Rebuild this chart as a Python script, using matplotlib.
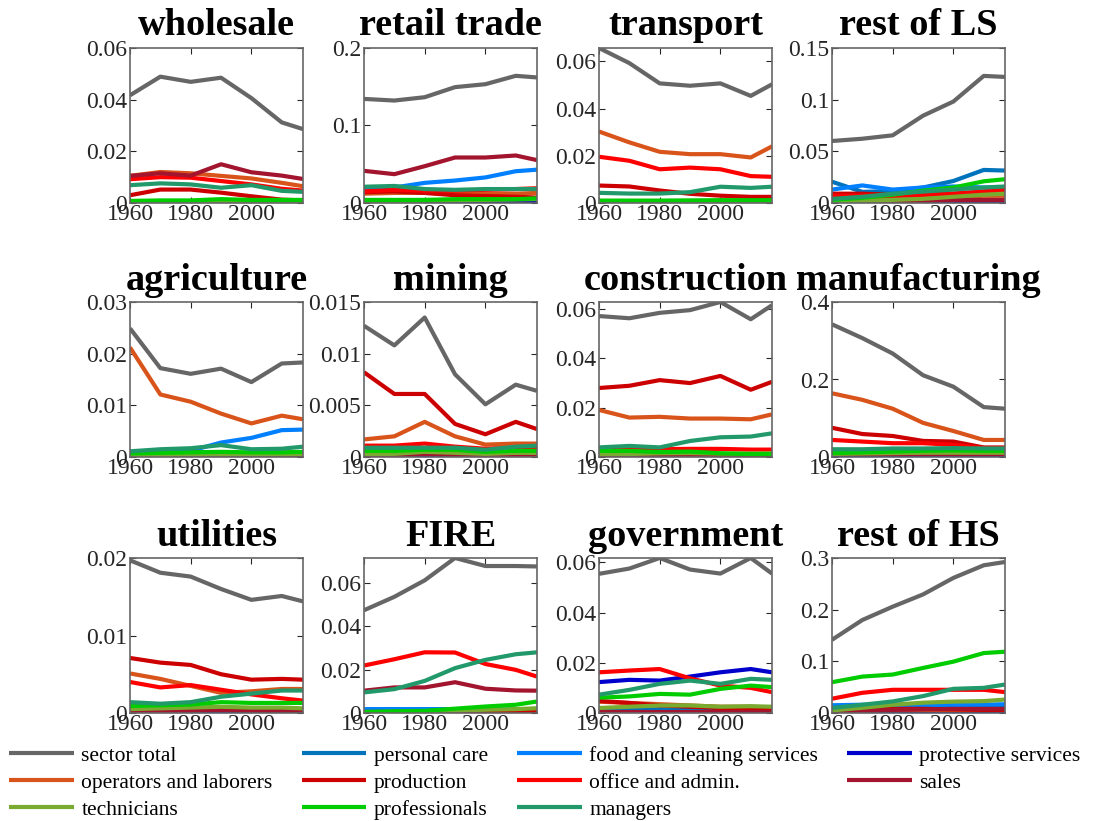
import numpy as np
import matplotlib
matplotlib.use('Agg')
from matplotlib import pyplot as plt
from matplotlib.ticker import MultipleLocator, FuncFormatter

plt.rcParams['font.family'] = ['Liberation Serif', 'DejaVu Serif']

years = [1960, 1970, 1980, 1990, 2000, 2010, 2017]

labels = ['sector total', 'personal care', 'food and cleaning services', 'protective services',
          'operators and laborers', 'production', 'office and admin.', 'sales',
          'technicians', 'professionals', 'managers']
colors = [(0.4, 0.4, 0.4), (0.0, 0.45, 0.74), (0.0, 0.5, 1.0), (0.0, 0.0, 0.8),
          (0.85, 0.33, 0.1), (0.8, 0.0, 0.0), (1.0, 0.0, 0.0), (0.64, 0.08, 0.18),
          (0.47, 0.67, 0.19), (0.0, 0.8, 0.0), (0.13, 0.6, 0.42)]

# rows follow the order of `labels`
wholesale = [
    [0.0417, 0.0489, 0.0469, 0.0485, 0.0406, 0.0312, 0.0286],
    [0.0001, 0.0001, 0.0001, 0.0001, 0.0001, 0.0001, 0.0001],
    [0.0003, 0.0003, 0.0003, 0.0003, 0.0003, 0.0003, 0.0003],
    [0.0001, 0.0001, 0.0001, 0.0003, 0.0002, 0.0001, 0.0001],
    [0.0105, 0.0120, 0.0115, 0.0105, 0.0095, 0.0078, 0.0065],
    [0.0030, 0.0052, 0.0052, 0.0040, 0.0026, 0.0013, 0.0010],
    [0.0092, 0.0100, 0.0098, 0.0085, 0.0072, 0.0055, 0.0048],
    [0.0105, 0.0115, 0.0106, 0.0150, 0.0119, 0.0106, 0.0093],
    [0.0005, 0.0006, 0.0006, 0.0007, 0.0006, 0.0006, 0.0006],
    [0.0008, 0.0010, 0.0010, 0.0015, 0.0012, 0.0012, 0.0012],
    [0.0069, 0.0076, 0.0072, 0.0059, 0.0069, 0.0047, 0.0043],
]
retail = [
    [0.1343, 0.1322, 0.1365, 0.1495, 0.1533, 0.1641, 0.1620],
    [0.0020, 0.0020, 0.0020, 0.0020, 0.0020, 0.0020, 0.0020],
    [0.0180, 0.0200, 0.0260, 0.0290, 0.0330, 0.0410, 0.0430],
    [0.0008, 0.0008, 0.0008, 0.0008, 0.0008, 0.0008, 0.0008],
    [0.0120, 0.0130, 0.0130, 0.0120, 0.0120, 0.0120, 0.0130],
    [0.0140, 0.0150, 0.0130, 0.0100, 0.0090, 0.0080, 0.0070],
    [0.0150, 0.0170, 0.0160, 0.0160, 0.0170, 0.0180, 0.0190],
    [0.0415, 0.0372, 0.0475, 0.0587, 0.0587, 0.0613, 0.0553],
    [0.0020, 0.0025, 0.0030, 0.0035, 0.0040, 0.0045, 0.0050],
    [0.0040, 0.0040, 0.0040, 0.0050, 0.0050, 0.0050, 0.0060],
    [0.0210, 0.0220, 0.0180, 0.0170, 0.0180, 0.0180, 0.0180],
]
transport = [
    [0.0657, 0.0593, 0.0507, 0.0497, 0.0507, 0.0454, 0.0503],
    [0.0003, 0.0003, 0.0003, 0.0003, 0.0003, 0.0003, 0.0003],
    [0.0004, 0.0004, 0.0004, 0.0004, 0.0004, 0.0004, 0.0004],
    [0.0002, 0.0002, 0.0002, 0.0002, 0.0002, 0.0002, 0.0002],
    [0.0303, 0.0257, 0.0217, 0.0207, 0.0207, 0.0193, 0.0240],
    [0.0074, 0.0070, 0.0053, 0.0039, 0.0031, 0.0026, 0.0026],
    [0.0196, 0.0179, 0.0143, 0.0150, 0.0143, 0.0114, 0.0111],
    [0.0008, 0.0008, 0.0008, 0.0008, 0.0008, 0.0008, 0.0008],
    [0.0006, 0.0006, 0.0006, 0.0006, 0.0006, 0.0006, 0.0006],
    [0.0010, 0.0010, 0.0010, 0.0011, 0.0012, 0.0012, 0.0012],
    [0.0043, 0.0040, 0.0040, 0.0046, 0.0069, 0.0064, 0.0069],
]
rest_ls = [
    [0.0600, 0.0622, 0.0655, 0.0845, 0.0982, 0.1230, 0.1220],
    [0.0206, 0.0108, 0.0115, 0.0150, 0.0213, 0.0320, 0.0314],
    [0.0130, 0.0170, 0.0130, 0.0150, 0.0160, 0.0150, 0.0150],
    [0.0005, 0.0005, 0.0008, 0.0010, 0.0015, 0.0020, 0.0020],
    [0.0060, 0.0050, 0.0050, 0.0050, 0.0060, 0.0070, 0.0070],
    [0.0090, 0.0090, 0.0080, 0.0090, 0.0090, 0.0110, 0.0110],
    [0.0070, 0.0070, 0.0070, 0.0080, 0.0090, 0.0110, 0.0130],
    [0.0020, 0.0020, 0.0020, 0.0020, 0.0030, 0.0030, 0.0030],
    [0.0010, 0.0020, 0.0030, 0.0040, 0.0060, 0.0080, 0.0090],
    [0.0030, 0.0050, 0.0080, 0.0120, 0.0150, 0.0210, 0.0230],
    [0.0040, 0.0060, 0.0090, 0.0110, 0.0130, 0.0150, 0.0160],
]
agriculture = [
    [0.0249, 0.0172, 0.0161, 0.0171, 0.0145, 0.0181, 0.0183],
    [0.0001, 0.0001, 0.0001, 0.0001, 0.0001, 0.0001, 0.0001],
    [0.0005, 0.0008, 0.0012, 0.0028, 0.0037, 0.0052, 0.0053],
    [0.0001, 0.0001, 0.0001, 0.0001, 0.0001, 0.0001, 0.0001],
    [0.0212, 0.0121, 0.0107, 0.0084, 0.0065, 0.0080, 0.0073],
    [0.0005, 0.0006, 0.0008, 0.0009, 0.0007, 0.0008, 0.0009],
    [0.0003, 0.0004, 0.0006, 0.0008, 0.0007, 0.0008, 0.0008],
    [0.0001, 0.0001, 0.0001, 0.0002, 0.0002, 0.0002, 0.0002],
    [0.0004, 0.0004, 0.0005, 0.0005, 0.0005, 0.0005, 0.0006],
    [0.0007, 0.0008, 0.0009, 0.0010, 0.0009, 0.0009, 0.0010],
    [0.0011, 0.0015, 0.0017, 0.0023, 0.0015, 0.0016, 0.0020],
]
mining = [
    [0.0127, 0.0108, 0.0135, 0.0080, 0.0051, 0.0070, 0.0064],
    [0.00002, 0.00002, 0.00002, 0.00002, 0.00002, 0.00002, 0.00002],
    [0.0001, 0.0001, 0.0001, 0.0001, 0.0001, 0.0001, 0.0001],
    [0.00003, 0.00003, 0.00003, 0.00003, 0.00003, 0.00003, 0.00003],
    [0.0017, 0.0020, 0.0034, 0.0020, 0.0012, 0.0013, 0.0013],
    [0.0082, 0.0061, 0.0061, 0.0032, 0.0022, 0.0034, 0.0027],
    [0.0011, 0.0011, 0.0013, 0.0010, 0.0008, 0.0009, 0.0009],
    [0.0001, 0.0001, 0.0003, 0.0002, 0.0001, 0.0001, 0.0001],
    [0.0003, 0.0003, 0.0005, 0.0004, 0.0003, 0.0004, 0.0004],
    [0.0006, 0.0006, 0.0007, 0.0007, 0.0005, 0.0006, 0.0006],
    [0.0009, 0.0009, 0.0009, 0.0009, 0.0007, 0.0010, 0.0011],
]
construction = [
    [0.0572, 0.0563, 0.0585, 0.0596, 0.0629, 0.0559, 0.0616],
    [0.0001, 0.0001, 0.0001, 0.0001, 0.0001, 0.0001, 0.0001],
    [0.0003, 0.0003, 0.0003, 0.0003, 0.0003, 0.0003, 0.0003],
    [0.0001, 0.0001, 0.0001, 0.0001, 0.0001, 0.0001, 0.0001],
    [0.0191, 0.0160, 0.0163, 0.0156, 0.0156, 0.0153, 0.0173],
    [0.0280, 0.0289, 0.0312, 0.0300, 0.0329, 0.0273, 0.0305],
    [0.0030, 0.0030, 0.0032, 0.0033, 0.0033, 0.0030, 0.0030],
    [0.0004, 0.0004, 0.0005, 0.0005, 0.0005, 0.0005, 0.0005],
    [0.0012, 0.0012, 0.0015, 0.0016, 0.0014, 0.0014, 0.0015],
    [0.0025, 0.0025, 0.0020, 0.0022, 0.0015, 0.0012, 0.0012],
    [0.0039, 0.0045, 0.0039, 0.0065, 0.0080, 0.0083, 0.0096],
]
manufacturing = [
    [0.3424, 0.3068, 0.2670, 0.2110, 0.1814, 0.1288, 0.1246],
    [0.0010, 0.0010, 0.0010, 0.0010, 0.0010, 0.0010, 0.0010],
    [0.0030, 0.0030, 0.0030, 0.0030, 0.0030, 0.0030, 0.0030],
    [0.0010, 0.0010, 0.0010, 0.0010, 0.0010, 0.0010, 0.0010],
    [0.1644, 0.1475, 0.1246, 0.0881, 0.0670, 0.0440, 0.0440],
    [0.0754, 0.0593, 0.0542, 0.0415, 0.0398, 0.0246, 0.0246],
    [0.0440, 0.0398, 0.0356, 0.0356, 0.0314, 0.0229, 0.0229],
    [0.0070, 0.0070, 0.0070, 0.0070, 0.0070, 0.0070, 0.0070],
    [0.0080, 0.0090, 0.0100, 0.0110, 0.0110, 0.0110, 0.0110],
    [0.0100, 0.0120, 0.0140, 0.0160, 0.0170, 0.0160, 0.0160],
    [0.0200, 0.0200, 0.0220, 0.0220, 0.0230, 0.0220, 0.0220],
]
utilities = [
    [0.0197, 0.0181, 0.0176, 0.0160, 0.0146, 0.0151, 0.0144],
    [0.00002, 0.00002, 0.00002, 0.00002, 0.00002, 0.00002, 0.00002],
    [0.00005, 0.00005, 0.00005, 0.00005, 0.00005, 0.00005, 0.00005],
    [0.00003, 0.00003, 0.00003, 0.00003, 0.00003, 0.00003, 0.00003],
    [0.0051, 0.0044, 0.0035, 0.0026, 0.0028, 0.0031, 0.0031],
    [0.0071, 0.0065, 0.0062, 0.0050, 0.0043, 0.0044, 0.0043],
    [0.0040, 0.0033, 0.0036, 0.0030, 0.0024, 0.0019, 0.0016],
    [0.0002, 0.0002, 0.0003, 0.0004, 0.0003, 0.0003, 0.0003],
    [0.0005, 0.0006, 0.0007, 0.0008, 0.0007, 0.0007, 0.0006],
    [0.0009, 0.0010, 0.0011, 0.0014, 0.0013, 0.0013, 0.0013],
    [0.0014, 0.0012, 0.0014, 0.0021, 0.0025, 0.0029, 0.0029],
]
fire = [
    [0.0474, 0.0536, 0.0612, 0.0715, 0.0678, 0.0678, 0.0676],
    [0.0015, 0.0015, 0.0015, 0.0015, 0.0014, 0.0014, 0.0013],
    [0.0018, 0.0018, 0.0018, 0.0018, 0.0016, 0.0016, 0.0015],
    [0.0002, 0.0002, 0.0002, 0.0002, 0.0002, 0.0002, 0.0002],
    [0.0004, 0.0004, 0.0004, 0.0004, 0.0004, 0.0004, 0.0004],
    [0.0003, 0.0003, 0.0003, 0.0003, 0.0003, 0.0003, 0.0003],
    [0.0219, 0.0248, 0.0280, 0.0279, 0.0226, 0.0199, 0.0168],
    [0.0103, 0.0118, 0.0118, 0.0142, 0.0112, 0.0104, 0.0103],
    [0.0003, 0.0005, 0.0008, 0.0012, 0.0015, 0.0018, 0.0022],
    [0.0005, 0.0008, 0.0010, 0.0020, 0.0030, 0.0038, 0.0053],
    [0.0095, 0.0110, 0.0148, 0.0207, 0.0245, 0.0271, 0.0280],
]
government = [
    [0.0554, 0.0575, 0.0617, 0.0571, 0.0555, 0.0617, 0.0555],
    [0.0012, 0.0015, 0.0015, 0.0012, 0.0010, 0.0008, 0.0008],
    [0.0005, 0.0005, 0.0005, 0.0005, 0.0005, 0.0005, 0.0005],
    [0.0123, 0.0132, 0.0129, 0.0145, 0.0162, 0.0175, 0.0162],
    [0.0045, 0.0040, 0.0035, 0.0030, 0.0025, 0.0025, 0.0022],
    [0.0048, 0.0040, 0.0030, 0.0025, 0.0020, 0.0018, 0.0015],
    [0.0162, 0.0169, 0.0175, 0.0138, 0.0109, 0.0100, 0.0083],
    [0.0005, 0.0005, 0.0005, 0.0005, 0.0005, 0.0005, 0.0005],
    [0.0020, 0.0025, 0.0030, 0.0030, 0.0025, 0.0027, 0.0025],
    [0.0061, 0.0066, 0.0076, 0.0073, 0.0096, 0.0109, 0.0103],
    [0.0073, 0.0092, 0.0116, 0.0129, 0.0116, 0.0136, 0.0132],
]
rest_hs = [
    [0.1417, 0.1800, 0.2058, 0.2295, 0.2615, 0.2859, 0.2923],
    [0.0120, 0.0130, 0.0130, 0.0130, 0.0130, 0.0130, 0.0140],
    [0.0150, 0.0160, 0.0160, 0.0160, 0.0160, 0.0160, 0.0170],
    [0.0010, 0.0020, 0.0020, 0.0020, 0.0030, 0.0030, 0.0030],
    [0.0040, 0.0050, 0.0060, 0.0060, 0.0060, 0.0060, 0.0060],
    [0.0050, 0.0060, 0.0080, 0.0080, 0.0070, 0.0060, 0.0060],
    [0.0276, 0.0391, 0.0449, 0.0449, 0.0449, 0.0449, 0.0404],
    [0.0030, 0.0040, 0.0060, 0.0070, 0.0080, 0.0080, 0.0080],
    [0.0050, 0.0100, 0.0160, 0.0200, 0.0220, 0.0230, 0.0260],
    [0.0596, 0.0705, 0.0744, 0.0872, 0.0994, 0.1160, 0.1186],
    [0.0096, 0.0160, 0.0224, 0.0327, 0.0468, 0.0487, 0.0551],
]

titles = ['wholesale', 'retail trade', 'transport', 'rest of LS',
          'agriculture', 'mining', 'construction', 'manufacturing',
          'utilities', 'FIRE', 'government', 'rest of HS']
sectors = [wholesale, retail, transport, rest_ls,
           agriculture, mining, construction, manufacturing,
           utilities, fire, government, rest_hs]
y_top = [0.06, 0.2, 0.0657, 0.15, 0.03, 0.015, 0.0629, 0.4, 0.02, 0.0715, 0.0617, 0.3]
y_step = [0.02, 0.1, 0.02, 0.05, 0.01, 0.005, 0.02, 0.2, 0.01, 0.02, 0.02, 0.1]

W, H = 1101, 821
fig = plt.figure(figsize=(W / 100, H / 100), dpi=100)

lefts = [130, 364, 599, 832]
tops = [48, 302, 558]
aw, ah = 173, 155

fmt = FuncFormatter(lambda v, p: '%g' % round(v, 6))

for i, (name, data) in enumerate(zip(titles, sectors)):
    r, c = divmod(i, 4)
    ax = fig.add_axes([lefts[c] / W, 1 - (tops[r] + ah) / H, aw / W, ah / H])
    for k in range(len(labels)):
        ax.plot(years, data[k], color=colors[k], lw=3, label=labels[k], solid_capstyle='butt')
    ax.set_xlim(1960, 2017)
    ax.set_ylim(0, y_top[i])
    ax.set_xticks([1960, 1980, 2000])
    ax.yaxis.set_major_locator(MultipleLocator(y_step[i]))
    ax.yaxis.set_major_formatter(fmt)
    ax.tick_params(direction='in', top=True, right=True, length=4, width=0.8,
                   labelsize=17, colors='0.15', pad=2)
    ax.tick_params(axis='x', pad=1)
    for s in ax.spines.values():
        s.set_color('0.4')
        s.set_linewidth(1.2)
    ax.set_title(name, fontsize=27.5, fontweight='bold', pad=9)

# legend fills column by column, so reorder to read across rows
handles, _ = ax.get_legend_handles_labels()
order = [0, 4, 8, 1, 5, 9, 2, 6, 10, 3, 7]
fig.legend([handles[j] for j in order], [labels[j] for j in order],
           loc='lower left', bbox_to_anchor=(5 / W, -3 / H), ncol=4,
           frameon=False, fontsize=15.5, handlelength=3.0, handletextpad=0.35,
           columnspacing=1.35, labelspacing=0.32, borderaxespad=0.1, borderpad=0.1)

fig.savefig('out.png', dpi=100)
